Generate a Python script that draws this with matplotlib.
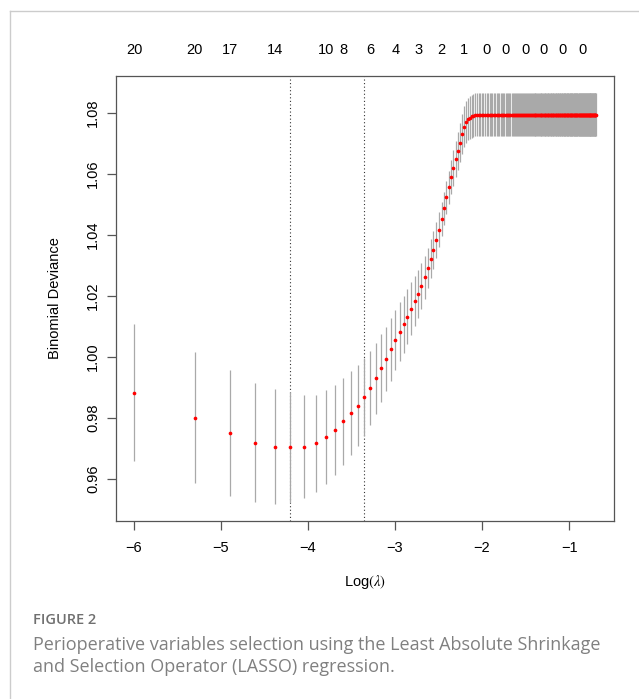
import matplotlib.pyplot as plt
import numpy as np
from matplotlib.lines import Line2D

# --- cv.glmnet results ---
lambdas = [
    0.0025, 0.0050, 0.0075, 0.0100, 0.0125, 0.0150, 0.0175, 0.0200, 0.0225, 0.0250,
    0.0275, 0.0300, 0.0325, 0.0350, 0.0375, 0.0400, 0.0425, 0.0450, 0.0475, 0.0500,
    0.0525, 0.0550, 0.0575, 0.0600, 0.0625, 0.0650, 0.0675, 0.0700, 0.0725, 0.0750,
    0.0775, 0.0800, 0.0825, 0.0850, 0.0875, 0.0900, 0.0925, 0.0950, 0.0975, 0.1000,
    0.1025, 0.1050, 0.1075, 0.1100, 0.1125, 0.1150, 0.1175, 0.1200, 0.1225, 0.1250,
    0.1275, 0.1300, 0.1325, 0.1350, 0.1375, 0.1400, 0.1425, 0.1450, 0.1475, 0.1500,
    0.1525, 0.1550, 0.1575, 0.1600, 0.1625, 0.1650, 0.1675, 0.1700, 0.1725, 0.1750,
    0.1775, 0.1800, 0.1825, 0.1850, 0.1875, 0.1900, 0.1925, 0.1950, 0.1975, 0.2000,
    0.2025, 0.2050, 0.2075, 0.2100, 0.2125, 0.2150, 0.2175, 0.2200, 0.2225, 0.2250,
    0.2275, 0.2300, 0.2325, 0.2350, 0.2375, 0.2400, 0.2425, 0.2450, 0.2475, 0.2500,
    0.2525, 0.2550, 0.2575, 0.2600, 0.2625, 0.2650, 0.2675, 0.2700, 0.2725, 0.2750,
    0.2775, 0.2800, 0.2825, 0.2850, 0.2875, 0.2900, 0.2925, 0.2950, 0.2975, 0.3000,
    0.3025, 0.3050, 0.3075, 0.3100, 0.3125, 0.3150, 0.3175, 0.3200, 0.3225, 0.3250,
    0.3275, 0.3300, 0.3325, 0.3350, 0.3375, 0.3400, 0.3425, 0.3450, 0.3475, 0.3500,
    0.3525, 0.3550, 0.3575, 0.3600, 0.3625, 0.3650, 0.3675, 0.3700, 0.3725, 0.3750,
    0.3775, 0.3800, 0.3825, 0.3850, 0.3875, 0.3900, 0.3925, 0.3950, 0.3975, 0.4000,
    0.4025, 0.4050, 0.4075, 0.4100, 0.4125, 0.4150, 0.4175, 0.4200, 0.4225, 0.4250,
    0.4275, 0.4300, 0.4325, 0.4350, 0.4375, 0.4400, 0.4425, 0.4450, 0.4475, 0.4500,
    0.4525, 0.4550, 0.4575, 0.4600, 0.4625, 0.4650, 0.4675, 0.4700, 0.4725, 0.4750,
    0.4775, 0.4800, 0.4825, 0.4850, 0.4875, 0.4900, 0.4925, 0.4950, 0.4975, 0.5000,
]

# mean binomial deviance (first 49 lambdas, then flat)
cvm = [
    0.9883, 0.9800, 0.9750, 0.9718, 0.9705, 0.9704, 0.9706, 0.9716, 0.9738, 0.9761,
    0.9789, 0.9815, 0.9840, 0.9867, 0.9898, 0.9930, 0.9963, 0.9993, 1.0024, 1.0056,
    1.0082, 1.0106, 1.0132, 1.0157, 1.0183, 1.0207, 1.0233, 1.0261, 1.0290, 1.0321,
    1.0351, 1.0383, 1.0417, 1.0451, 1.0487, 1.0523, 1.0555, 1.0588, 1.0619, 1.0648,
    1.0675, 1.0702, 1.0730, 1.0754, 1.0768, 1.0779, 1.0784, 1.0788, 1.0790,
] + [1.0793] * 151

# standard error of the deviance
cvsd = [
    0.0225, 0.0215, 0.0207, 0.0195, 0.0188, 0.0180, 0.0169, 0.0160, 0.0154, 0.0147,
    0.0142, 0.0138, 0.0132, 0.0128, 0.0122, 0.0116, 0.0111, 0.0106, 0.0102, 0.0098,
    0.0096, 0.0094, 0.0090, 0.0087, 0.0083, 0.0079, 0.0075, 0.0070, 0.0066, 0.0064,
    0.0062, 0.0059, 0.0056, 0.0055, 0.0054, 0.0054, 0.0055, 0.0056, 0.0058, 0.0060,
    0.0062, 0.0064, 0.0066, 0.0068, 0.0069, 0.0070, 0.0070, 0.0070, 0.0070,
] + [0.0071] * 151

# number of non-zero coefficients shown along the top
nz_lambdas = [0.0025, 0.0050, 0.0075, 0.0125, 0.0225, 0.0275, 0.0375, 0.0500, 0.0650,
              0.0850, 0.1100, 0.1425, 0.1775, 0.2225, 0.2750, 0.3425, 0.4275]
nz_labels = ['20', '20', '17', '14', '10', '8', '6', '4', '3', '2', '1',
             '0', '0', '0', '0', '0', '0']

lambda_min = 0.0150
lambda_1se = 0.0350

caption_head = 'FIGURE 2'
caption_lines = ['Perioperative variables selection using the Least Absolute Shrinkage',
                 'and Selection Operator (LASSO) regression.']

plt.rcParams['font.family'] = ['Liberation Sans', 'DejaVu Sans']
plt.rcParams['mathtext.fontset'] = 'stix'

loglam = np.log(lambdas)
cvm = np.array(cvm)
cvsd = np.array(cvsd)

W, H = 639, 699
fig = plt.figure(figsize=(W / 100, H / 100), dpi=100)
ax = fig.add_axes([116 / W, 1 - 520.7 / H, 498.3 / W, 444.4 / H])

ax.vlines(loglam, cvm - cvsd, cvm + cvsd, color='darkgray', lw=0.9, zorder=2)
ax.scatter(loglam, cvm, s=7, color='red', lw=0, zorder=3)
for lam in (lambda_min, lambda_1se):
    ax.axvline(np.log(lam), color='#333333', lw=0.8, ls=(0, (1, 2.2)), zorder=1)

ax.set_xlim(-6.203, -0.481)
ax.set_ylim(0.9463, 1.0919)
ax.set_xticks([-6, -5, -4, -3, -2, -1])
ax.set_yticks([0.96, 0.98, 1.00, 1.02, 1.04, 1.06, 1.08])
ax.set_yticklabels(['%.2f' % v for v in ax.get_yticks()], rotation=90, va='center')

for s in ax.spines.values():
    s.set_color('#555555')
    s.set_linewidth(0.9)
ax.tick_params(axis='both', length=6.5, width=0.9, color='#555555', labelsize=10.5, pad=8)
ax.tick_params(axis='y', pad=5)

ax.set_ylabel('Binomial Deviance', fontsize=10.5)
ax.yaxis.set_label_coords(-0.108, 0.5)
ax.set_xlabel(r'Log$(\lambda)$', fontsize=10.5)
ax.xaxis.set_label_coords(0.5, -0.118)

for lam, lab in zip(nz_lambdas, nz_labels):
    ax.annotate(lab, xy=(np.log(lam), 1), xycoords=('data', 'axes fraction'),
                xytext=(0, 19), textcoords='offset points',
                ha='center', va='center', fontsize=10.5)

# page frame and caption
fig.add_artist(Line2D([9.5 / W, 9.5 / W], [0, 1 - 11 / H], color='#cccccc', lw=1.0))
fig.add_artist(Line2D([9.5 / W, 1], [1 - 11 / H, 1 - 11 / H], color='#cccccc', lw=1.0))
fig.text(33 / W, 1 - 624.5 / H, caption_head, fontsize=10.5, color='#707070',
         family=['Open Sans', 'DejaVu Sans'], weight='semibold', va='baseline')
for i, line in enumerate(caption_lines):
    fig.text(33 / W, 1 - (649.5 + 22.5 * i) / H, line, fontsize=13, color='#808080',
             family=['Open Sans', 'DejaVu Sans'], va='baseline')

fig.savefig('out.png', dpi=100)
